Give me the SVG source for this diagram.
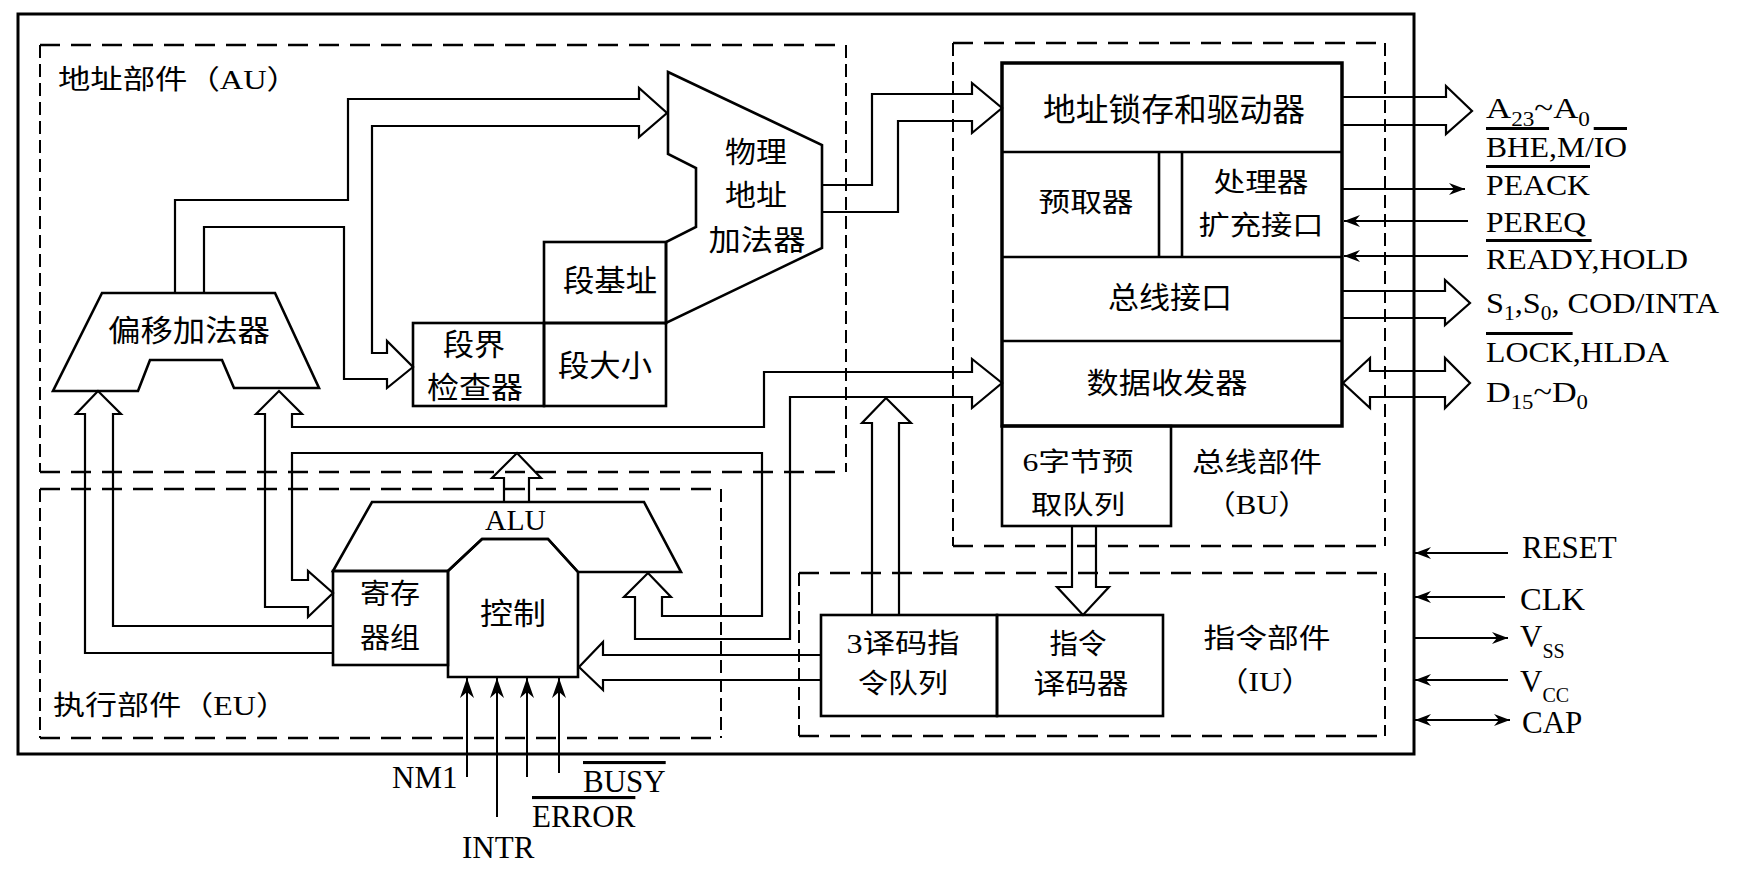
<svg xmlns="http://www.w3.org/2000/svg" width="1740" height="880" viewBox="0 0 1740 880">
<defs>
<style>
.ln{fill:none;stroke:#000;stroke-width:2.2;stroke-linejoin:miter}
.th{fill:none;stroke:#000;stroke-width:2}
.bx{fill:#fff;stroke:#000;stroke-width:2.6}
.bo{fill:none;stroke:#000;stroke-width:2.6}
.bx2{fill:none;stroke:#000;stroke-width:3.5}
.dh{fill:none;stroke:#000;stroke-width:2.6;stroke-dasharray:20 11}
.dv{fill:none;stroke:#000;stroke-width:2;stroke-dasharray:13 6}
text{font-family:"Liberation Serif","Noto Sans CJK SC",serif;fill:#000}
.c{text-anchor:middle}
.ol{text-decoration:overline}
</style>
<marker id="ah" markerUnits="userSpaceOnUse" viewBox="0 0 16 12" refX="16" refY="6" markerWidth="16" markerHeight="12" orient="auto-start-reverse"><path d="M0,0 L16,6 L0,12 L5,6 Z" fill="#000"/></marker>
<marker id="ahL" markerUnits="userSpaceOnUse" viewBox="0 0 20 14" refX="20" refY="7" markerWidth="20" markerHeight="14" orient="auto"><path d="M0,0 L20,7 L0,14 L6,7 Z" fill="#000"/></marker>
</defs>
<rect x="0" y="0" width="1740" height="880" fill="#fff"/>

<g id="chip">
<rect x="18" y="14" width="1396" height="740" fill="none" stroke="#000" stroke-width="3"/>
</g>

<g id="AU">
<line class="dh" x1="40" y1="45" x2="846" y2="45"/>
<line class="dh" x1="40" y1="472" x2="846" y2="472"/>
<line class="dv" x1="40" y1="45" x2="40" y2="472"/>
<line class="dv" x1="846" y1="45" x2="846" y2="472"/>
<text x="58" y="89" font-size="27" textLength="241" lengthAdjust="spacingAndGlyphs">地址部件（AU）</text>
</g>
<g id="EU">
<line class="dh" x1="40" y1="489" x2="721" y2="489"/>
<line class="dh" x1="40" y1="738" x2="721" y2="738"/>
<line class="dv" x1="40" y1="489" x2="40" y2="738"/>
<line class="dv" x1="721" y1="489" x2="721" y2="738"/>
<text x="53" y="715" font-size="27" textLength="235" lengthAdjust="spacingAndGlyphs">执行部件（EU）</text>
</g>
<g id="BU">
<line class="dh" x1="953" y1="43" x2="1385" y2="43"/>
<line class="dh" x1="953" y1="546" x2="1385" y2="546"/>
<line class="dv" x1="953" y1="43" x2="953" y2="546"/>
<line class="dv" x1="1385" y1="43" x2="1385" y2="546"/>
<text class="c" x="1257" y="471.5" font-size="27" textLength="130" lengthAdjust="spacingAndGlyphs">总线部件</text>
<text class="c" x="1257" y="514" font-size="27" textLength="104" lengthAdjust="spacingAndGlyphs">（BU）</text>
</g>
<g id="IU">
<line class="dh" x1="799" y1="573" x2="1385" y2="573"/>
<line class="dh" x1="799" y1="736" x2="1385" y2="736"/>
<line class="dv" x1="799" y1="573" x2="799" y2="736"/>
<line class="dv" x1="1385" y1="573" x2="1385" y2="736"/>
<text class="c" x="1267" y="648" font-size="27" textLength="127" lengthAdjust="spacingAndGlyphs">指令部件</text>
<text class="c" x="1265" y="691" font-size="27" textLength="96" lengthAdjust="spacingAndGlyphs">（IU）</text>
</g>

<g id="connectors">
<path class="ln" d="M175,293 V200 H348 V99 H639 V88 L667,113 L639,137 V126 H372 V353 H387 V341 L413,367 L387,388 V379 H344 V227 H204 V293"/>
<path class="ln" d="M822,185 H872 V94 H972 V83 L1002,108 L972,133 V121 H898 V212 H822"/>
<path class="ln" d="M265,607 V414 H256 L279,391 L302,414 H292 V427 H764 V372 H972 V359 L1002,383 L972,408 V397 H790 V639 H635 V597 H624 L648,573 L671,597 H662 V616 H762 V453 H292 V580 H308 V571 L333,593 L308,617 V607 Z"/>
<path class="ln" d="M333,653 H85 V414 H76 L98,391 L121,414 H113 V626 H333"/>
<path class="ln" d="M504,502 V478 H492 L517,453 L541,478 H529 V502"/>
<path class="ln" d="M872,615 V423 H862 L886,398 L911,423 H899 V615"/>
<path class="ln" d="M1072,526 V587 H1057 L1083,615 L1109,587 H1096 V526"/>
<path class="ln" d="M821,655 H603 V642 L579,667 L603,690 V680 H821"/>
<path class="ln" d="M1342,97 H1446 V86 L1472,111 L1446,134 V125 H1342"/>
<path class="ln" d="M1342,291 H1445 V280 L1470,303 L1445,325 V318 H1342"/>
<path class="ln" d="M1370,371 H1445 V358 L1470,383 L1445,408 V397 H1370 V408 L1343,383 L1370,358 Z"/>
<path class="th" d="M1342,189 H1465" marker-end="url(#ah)"/>
<path class="th" d="M1468,221 H1344" marker-end="url(#ah)"/>
<path class="th" d="M1468,256 H1344" marker-end="url(#ah)"/>
<path class="th" d="M1508,553 H1415" marker-end="url(#ah)"/>
<path class="th" d="M1505,597 H1415" marker-end="url(#ah)"/>
<path class="th" d="M1414,638 H1508" marker-end="url(#ah)"/>
<path class="th" d="M1508,680 H1415" marker-end="url(#ah)"/>
<path class="th" d="M1415,720 H1510" marker-start="url(#ah)" marker-end="url(#ah)"/>
<path class="th" d="M467,777 V678" marker-end="url(#ahL)"/>
<path class="th" d="M497,817 V678" marker-end="url(#ahL)"/>
<path class="th" d="M527,777 V678" marker-end="url(#ahL)"/>
<path class="th" d="M559,773 V678" marker-end="url(#ahL)"/>
</g>

<g id="offset-adder">
<polygon class="bo" points="102,293 275,293 319,388 234,388 222,360 150,360 138,391 53,391"/>
<text class="c" x="189" y="341" font-size="30" textLength="162" lengthAdjust="spacingAndGlyphs">偏移加法器</text>
</g>
<g id="phys-adder">
<polygon class="bo" points="668,72 822,145 822,248 666,323 666,242 696,227 696,168 668,154"/>
<text class="c" x="756" y="163" font-size="29" textLength="62" lengthAdjust="spacingAndGlyphs">物理</text>
<text class="c" x="756" y="206" font-size="29" textLength="62" lengthAdjust="spacingAndGlyphs">地址</text>
<text class="c" x="757" y="251" font-size="29" textLength="97" lengthAdjust="spacingAndGlyphs">加法器</text>
</g>
<g id="seg-base">
<rect class="bo" x="544" y="242" width="122" height="81"/>
<text class="c" x="610" y="291" font-size="30" textLength="94" lengthAdjust="spacingAndGlyphs">段基址</text>
</g>
<g id="seg-size">
<rect class="bo" x="544" y="323" width="122" height="83"/>
<text class="c" x="605" y="376" font-size="30" textLength="94" lengthAdjust="spacingAndGlyphs">段大小</text>
</g>
<g id="seg-check">
<rect class="bo" x="413" y="323" width="131" height="83"/>
<text class="c" x="474" y="354.5" font-size="30" textLength="62" lengthAdjust="spacingAndGlyphs">段界</text>
<text class="c" x="475" y="397.5" font-size="30" textLength="96" lengthAdjust="spacingAndGlyphs">检查器</text>
</g>

<g id="ALU">
<polygon class="bo" points="372,502 644,502 681,572 578,572 548,539 482,539 448,571 333,571"/>
<text x="485" y="530" font-size="30" textLength="61" lengthAdjust="spacingAndGlyphs">ALU</text>
</g>
<g id="registers">
<rect class="bo" x="333" y="571" width="115" height="94"/>
<text class="c" x="390" y="604" font-size="28" textLength="60" lengthAdjust="spacingAndGlyphs">寄存</text>
<text class="c" x="390" y="648" font-size="28" textLength="60" lengthAdjust="spacingAndGlyphs">器组</text>
</g>
<g id="control">
<polygon class="bo" points="448,571 482,539 548,539 578,572 578,677 448,677"/>
<text class="c" x="513" y="624" font-size="30" textLength="66" lengthAdjust="spacingAndGlyphs">控制</text>
</g>

<g id="bus-unit-box">
<rect class="bx2" x="1002" y="63" width="340" height="363"/>
<line class="bo" x1="1002" y1="152" x2="1342" y2="152"/>
<line class="bo" x1="1002" y1="257" x2="1342" y2="257"/>
<line class="bo" x1="1002" y1="341" x2="1342" y2="341"/>
<line class="bo" x1="1159" y1="152" x2="1159" y2="257"/>
<line class="bo" x1="1182" y1="152" x2="1182" y2="257"/>
<text class="c" x="1174" y="121" font-size="32" textLength="262" lengthAdjust="spacingAndGlyphs">地址锁存和驱动器</text>
<text class="c" x="1086" y="212" font-size="27" textLength="95" lengthAdjust="spacingAndGlyphs">预取器</text>
<text class="c" x="1261" y="192" font-size="27" textLength="95" lengthAdjust="spacingAndGlyphs">处理器</text>
<text class="c" x="1261" y="235" font-size="27" textLength="125" lengthAdjust="spacingAndGlyphs">扩充接口</text>
<text class="c" x="1170" y="308" font-size="30" textLength="124" lengthAdjust="spacingAndGlyphs">总线接口</text>
<text class="c" x="1167" y="394" font-size="29" textLength="161" lengthAdjust="spacingAndGlyphs">数据收发器</text>
</g>
<g id="prefetch-queue">
<rect class="bo" x="1002" y="426" width="169" height="100"/>
<text class="c" x="1078" y="471" font-size="26" textLength="111" lengthAdjust="spacingAndGlyphs">6字节预</text>
<text class="c" x="1078" y="514" font-size="26" textLength="94" lengthAdjust="spacingAndGlyphs">取队列</text>
</g>
<g id="decoded-queue">
<rect class="bo" x="821" y="615" width="176" height="101"/>
<text class="c" x="903" y="653" font-size="27" textLength="113" lengthAdjust="spacingAndGlyphs">3译码指</text>
<text class="c" x="903" y="693" font-size="27" textLength="90" lengthAdjust="spacingAndGlyphs">令队列</text>
</g>
<g id="decoder">
<rect class="bo" x="997" y="615" width="166" height="101"/>
<text class="c" x="1078" y="654" font-size="28" textLength="57" lengthAdjust="spacingAndGlyphs">指令</text>
<text class="c" x="1081" y="694" font-size="28" textLength="95" lengthAdjust="spacingAndGlyphs">译码器</text>
</g>

<g id="signals">
<text x="1486" y="118" font-size="30" textLength="104" lengthAdjust="spacingAndGlyphs">A<tspan font-size="20" dy="8">23</tspan><tspan font-size="30" dy="-8">~A</tspan><tspan font-size="20" dy="8">0</tspan></text>
<text x="1486" y="157" font-size="30" textLength="141" lengthAdjust="spacingAndGlyphs"><tspan class="ol">BHE</tspan>,M/<tspan class="ol">IO</tspan></text>
<text x="1486" y="195" font-size="30" textLength="104" lengthAdjust="spacingAndGlyphs"><tspan class="ol">PEACK</tspan></text>
<text x="1486" y="232" font-size="30" textLength="100" lengthAdjust="spacingAndGlyphs">PEREQ</text>
<text x="1486" y="269" font-size="30" textLength="202" lengthAdjust="spacingAndGlyphs"><tspan class="ol">READY</tspan>,HOLD</text>
<text x="1486" y="313" font-size="30" textLength="233" lengthAdjust="spacingAndGlyphs">S<tspan font-size="20" dy="7">1</tspan><tspan font-size="30" dy="-7">,S</tspan><tspan font-size="20" dy="7">0</tspan><tspan font-size="30" dy="-7">, COD/INTA</tspan></text>
<text x="1486" y="362" font-size="30" textLength="183" lengthAdjust="spacingAndGlyphs"><tspan class="ol">LOCK</tspan>,HLDA</text>
<text x="1486" y="402" font-size="30" textLength="102" lengthAdjust="spacingAndGlyphs">D<tspan font-size="20" dy="7">15</tspan><tspan font-size="30" dy="-7">~D</tspan><tspan font-size="20" dy="7">0</tspan></text>
<text x="1522" y="558" font-size="31">RESET</text>
<text x="1520" y="610" font-size="31" textLength="65" lengthAdjust="spacingAndGlyphs">CLK</text>
<text x="1520" y="647" font-size="31">V<tspan font-size="20" dy="11">SS</tspan></text>
<text x="1520" y="692" font-size="31">V<tspan font-size="20" dy="10">CC</tspan></text>
<text x="1522" y="733" font-size="31">CAP</text>
<text x="392" y="788" font-size="31">NM1</text>
<text x="462" y="858" font-size="31">INTR</text>
<text x="532" y="827" font-size="31"><tspan class="ol">ERROR</tspan></text>
<text x="583" y="792" font-size="31"><tspan class="ol">BUSY</tspan></text>
</g>
</svg>
